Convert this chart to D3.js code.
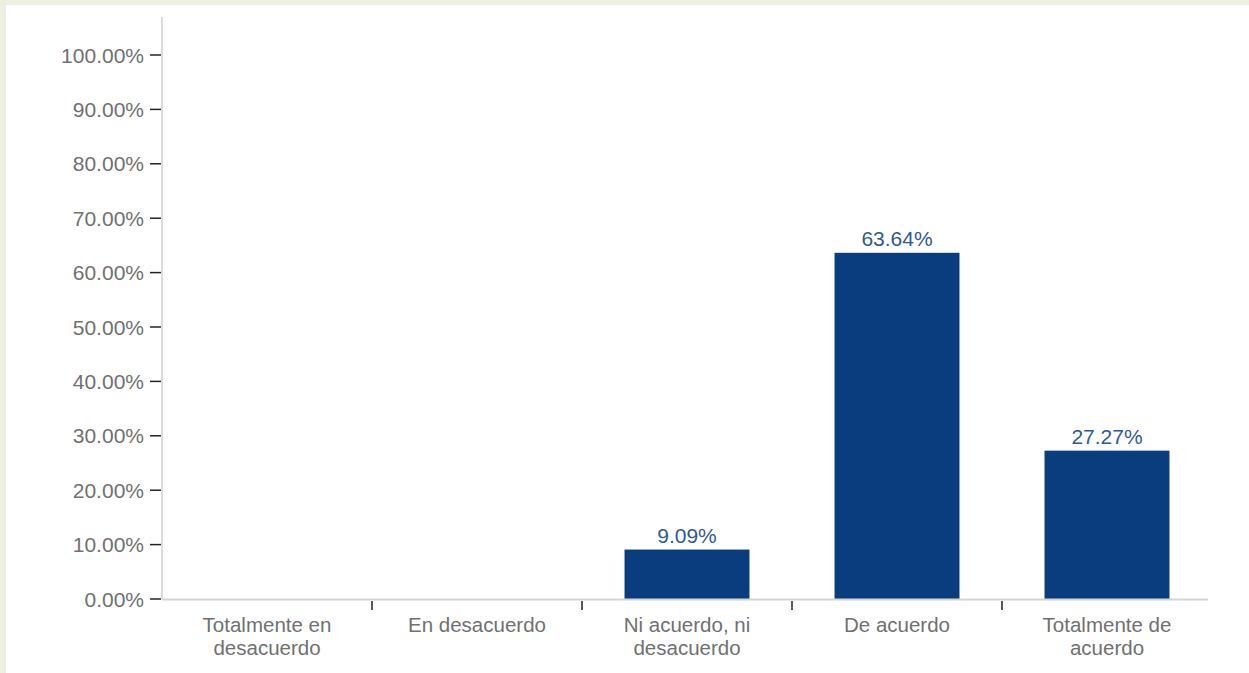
<!DOCTYPE html>
<html>
<head>
<meta charset="utf-8">
<script src="https://cdn.jsdelivr.net/npm/d3@7/dist/d3.min.js"></script>
<style>
  html, body { margin: 0; padding: 0; background: #edf0e1; }
  #frame { position: absolute; left: 6px; top: 5px; width: 1243px; height: 668px; background: #ffffff; }
  svg { display: block; }
</style>
</head>
<body>
<div id="frame"></div>
<script>
const categories = [
  ["Totalmente en", "desacuerdo"],
  ["En desacuerdo"],
  ["Ni acuerdo, ni", "desacuerdo"],
  ["De acuerdo"],
  ["Totalmente de", "acuerdo"]
];
const values = [0, 0, 9.09, 63.64, 27.27];
const yTicks = [0, 10, 20, 30, 40, 50, 60, 70, 80, 90, 100];

const W = 1249, H = 673;
const svg = d3.select("body").append("svg")
  .attr("width", W).attr("height", H)
  .style("position", "absolute").style("left", 0).style("top", 0);

const x0 = 162, x1 = 1212, yBase = 599, yTop = 55;
const x = d3.scaleBand().domain(d3.range(categories.length)).range([x0, x1]).paddingInner(0.405).paddingOuter(0.2025);
const band = d3.scaleBand().domain(d3.range(categories.length)).range([x0, x1]);
const y = d3.scaleLinear().domain([0, 100]).range([yBase, yTop]);

const font = "'Liberation Sans', Arial, sans-serif";

// y axis line
svg.append("line").attr("x1", x0).attr("x2", x0).attr("y1", 17).attr("y2", yBase)
  .attr("stroke", "#cfcfcf").attr("stroke-width", 1.5);

// y ticks + labels
const yt = svg.append("g");
yt.selectAll("line").data(yTicks).join("line")
  .attr("x1", 150).attr("x2", 161)
  .attr("y1", d => y(d)).attr("y2", d => y(d))
  .attr("stroke", "#222").attr("stroke-width", 1.5);
yt.selectAll("text").data(yTicks).join("text")
  .attr("x", 144).attr("y", d => y(d)).attr("dy", "0.36em")
  .attr("text-anchor", "end")
  .attr("font-family", font).attr("font-size", 21).attr("fill", "#707070")
  .text(d => d.toFixed(2) + "%");

// bars
svg.selectAll("rect.bar").data(values).join("rect")
  .attr("class", "bar")
  .attr("x", (d, i) => x(i)).attr("width", x.bandwidth())
  .attr("y", d => y(d)).attr("height", d => yBase - y(d))
  .attr("fill", "#0a3d7e");

// x axis baseline
svg.append("line").attr("x1", x0).attr("x2", 1208).attr("y1", yBase + 0.5).attr("y2", yBase + 0.5)
  .attr("stroke", "#d4d4d4").attr("stroke-width", 2);

// category separators
const seps = d3.range(1, categories.length);
svg.selectAll("line.sep").data(seps).join("line")
  .attr("class", "sep")
  .attr("x1", i => band(i)).attr("x2", i => band(i))
  .attr("y1", 601).attr("y2", 610)
  .attr("stroke", "#222").attr("stroke-width", 1.5);

// category labels
categories.forEach((lines, i) => {
  const cx = band(i) + band.bandwidth() / 2;
  const t = svg.append("text")
    .attr("x", cx).attr("y", 632)
    .attr("text-anchor", "middle")
    .attr("font-family", font).attr("font-size", 20.5).attr("fill", "#707070");
  lines.forEach((l, j) => t.append("tspan")
    .attr("x", cx).attr("dy", j === 0 ? 0 : 23).text(l));
});

// value labels
svg.selectAll("text.val").data(values.map((v, i) => [v, i]).filter(d => d[0] > 0)).join("text")
  .attr("class", "val")
  .attr("x", d => x(d[1]) + x.bandwidth() / 2).attr("y", d => y(d[0]) - 7)
  .attr("text-anchor", "middle")
  .attr("font-family", font).attr("font-size", 21).attr("fill", "#2d5a96")
  .text(d => d[0].toFixed(2) + "%");
</script>
</body>
</html>
